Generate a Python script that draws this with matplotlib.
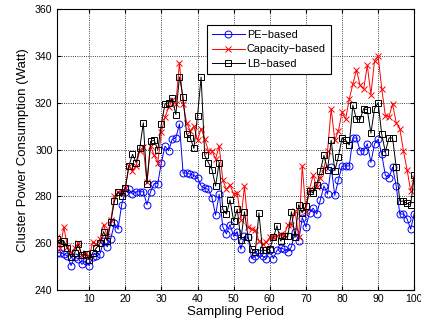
import numpy as np
import matplotlib
matplotlib.use('Agg')
import matplotlib.pyplot as plt

plt.rcParams['font.family'] = ['Liberation Sans', 'DejaVu Sans']

# sampling periods 1..100
periods = list(range(1, 101))

pe_based = [
    256, 256, 255.5, 254.5, 250.5, 254, 253.5, 251, 252.5, 250.5,
    254, 254.5, 255.5, 261, 258.5, 262, 268.5, 266, 276.5, 282,
    283, 281, 282, 282, 282, 276.5, 282, 285.5, 285.5, 294.5,
    301.5, 299.5, 304.5, 305, 311, 290, 290, 289.5, 289, 288,
    284.5, 283.5, 283, 279.5, 272, 281, 267, 264, 268, 263,
    265, 257.5, 263, 262.5, 253.5, 254.5, 256, 254.5, 253.5, 257,
    253.5, 257, 258, 257.5, 256.5, 258.5, 265, 261, 271, 267,
    273, 275, 272.5, 278.5, 284.5, 281, 292.5, 280.5, 287, 293,
    293, 293, 305, 305, 299.5, 299.5, 302.5, 294.5, 302.5, 304.5,
    298, 289, 288, 292.5, 284.5, 272.5, 272.5, 270.5, 266, 272.7,
]

capacity_based = [
    262.5, 258, 267, 258.5, 256, 258, 260, 254.5, 256, 254,
    260.5, 259.5, 262, 268, 263, 270, 280, 282, 281.5, 283.5,
    293, 291, 293, 299.5, 301, 286, 301.5, 297.5, 294.5, 307.5,
    314, 318, 321, 319.5, 337, 319.5, 311.5, 308, 310, 304,
    309, 304.5, 299.5, 299.5, 296, 301.5, 287, 283, 285, 281,
    281.5, 270, 284.5, 267, 266, 265.5, 261, 259.5, 260.5, 262.5,
    262.5, 263, 264, 263.5, 268, 268, 274, 262.5, 293, 274,
    283, 289, 284, 288, 292, 299.5, 317.5, 304, 308, 316,
    313, 321.5, 328, 334, 327.5, 326, 336, 323.5, 338, 340,
    326, 314.5, 314, 319.5, 311.5, 309, 299.5, 291.5, 282.5, 288,
]

lb_based = [
    262, 260, 261, 258, 254, 256, 259.5, 255, 255.5, 253,
    256, 258, 260, 265, 261, 269, 278, 282, 280, 283.5,
    293, 298, 294.5, 300.5, 311.5, 285.5, 303.5, 304, 300, 311,
    319.5, 320, 322, 315, 331, 322.5, 306.5, 305, 300.5, 314.5,
    331, 297.5, 294.5, 291.5, 284.5, 294.5, 274.5, 272.5, 278.5, 269.5,
    274.5, 261.5, 273.5, 262.5, 257.5, 256.5, 273, 257, 257, 257.5,
    262.5, 267.5, 261, 263, 263, 273.5, 262.5, 276.5, 273, 276,
    282.5, 281.5, 285, 291, 297.5, 291.5, 304, 291, 297, 305,
    304, 302, 319, 313, 313, 317.5, 317, 307, 317.5, 320,
    306.5, 299, 305, 305, 292.5, 278, 278, 277, 276.5, 289,
]

fig = plt.figure(figsize=(4.21, 3.26), dpi=100)
ax = fig.add_axes([0.1345, 0.110, 0.8495, 0.862])

ax.plot(periods, pe_based, color='blue', marker='o', markersize=5,
        markerfacecolor='none', markeredgewidth=0.7, linewidth=0.7, label='PE\u2212based')
ax.plot(periods, capacity_based, color='red', marker='x', markersize=4,
        markeredgewidth=0.7, linewidth=0.7, label='Capacity\u2212based')
ax.plot(periods, lb_based, color='black', marker='s', markersize=5,
        markerfacecolor='none', markeredgewidth=0.7, linewidth=0.7, label='LB\u2212based')

ax.set_xlim(1, 100)
ax.set_ylim(240, 360)
ax.set_xticks(range(10, 101, 10))
ax.set_yticks(range(240, 361, 20))
ax.grid(True, linestyle=':', color='black', linewidth=0.6)
ax.tick_params(direction='in', labelsize=7.6, length=3, top=True, right=True, pad=3)
for s in ax.spines.values():
    s.set_linewidth(0.8)

ax.set_xlabel('Sampling Period', fontsize=9.5, labelpad=1)
ax.set_ylabel('Cluster Power Consumption (Watt)', fontsize=9.5, labelpad=4)

leg = ax.legend(loc='upper center', bbox_to_anchor=(0.594, 0.943), fontsize=7.8,
                fancybox=False, framealpha=1, edgecolor='black',
                handlelength=3.0, handletextpad=0.2, borderpad=0.45,
                labelspacing=0.4, borderaxespad=0)
leg.get_frame().set_linewidth(0.8)

fig.savefig('out.png', dpi=100)
